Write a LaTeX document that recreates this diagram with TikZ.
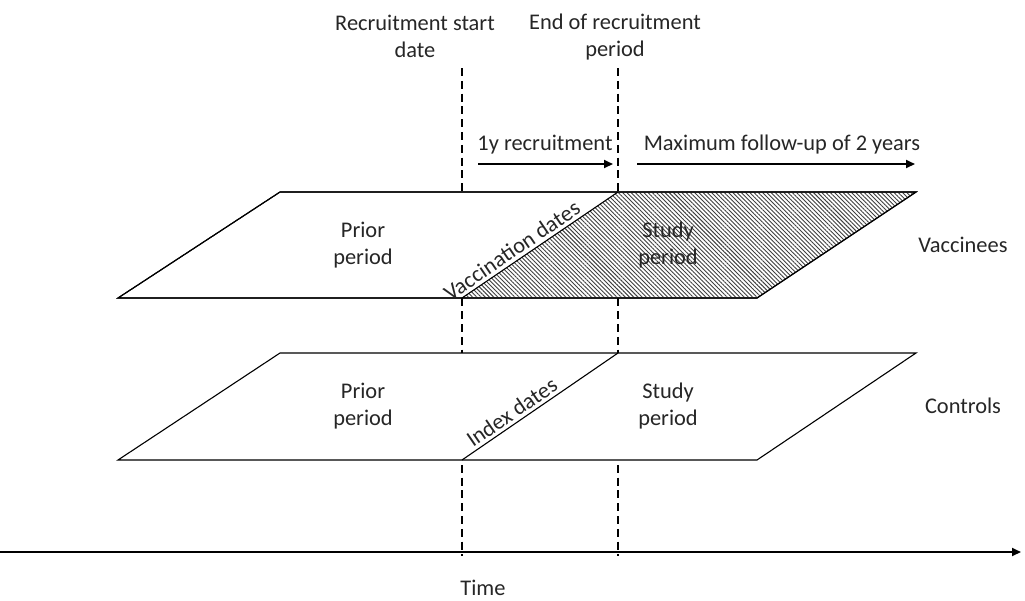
\documentclass[tikz,border=0pt]{standalone}
\usepackage{fontspec}
\setmainfont{Carlito}
\usetikzlibrary{arrows.meta,patterns.meta}

\begin{document}
\begin{tikzpicture}[x=0.5pt, y=-0.5pt,
txt/.style={align=center, font=\fontsize{11.2}{13.5}\selectfont, text=black!85, inner sep=0pt},
band/.style={draw=black, fill=white, line width=0.55pt},
marker/.style={line width=1.4pt, dash pattern=on 4pt off 2.4pt},
span/.style={line width=1pt, -{Triangle[length=4.5pt,width=4pt]}}
]
\useasboundingbox (0,0) rectangle (1025,601);
%Coordinates
\coordinate (s0) at (462,68);  \coordinate (s1) at (462,556);
\coordinate (e0) at (618,68);  \coordinate (e1) at (618,556);
\coordinate (a0) at (478,164); \coordinate (a1) at (613,164);
\coordinate (b0) at (637,164); \coordinate (b1) at (915,164);
\coordinate (t0) at (0,552);   \coordinate (t1) at (1021,552);
%Dashed markers
\draw[marker] (s0) -- (s1);
\draw[marker] (e0) -- (e1);
%Vaccinees band
\draw[band] (118,298) coordinate (v1) -- (280,192) coordinate (v2)
  -- (916,192) coordinate (v3) -- (757,298) coordinate (v4) -- cycle;
\coordinate (vd0) at (462,298); \coordinate (vd1) at (618,192);
\fill[pattern={Lines[angle=-45,distance=1.5pt,line width=0.45pt]}, pattern color=black!75]
  (vd0) -- (vd1) -- (v3) -- (v4) -- cycle;
\draw[band, fill=none] (v1) -- (v2) -- (v3) -- (v4) -- cycle;
\draw[line width=0.55pt] (vd0) -- (vd1)
  node[txt, pos=0.36, sloped, anchor=south, yshift=1.5pt] (vdates) {Vaccination dates};
%Controls band
\draw[band] (118,460) coordinate (c1) -- (280,353) coordinate (c2)
  -- (916,353) coordinate (c3) -- (757,460) coordinate (c4) -- cycle;
\coordinate (cd0) at (462,460); \coordinate (cd1) at (618,353);
\draw[line width=0.55pt] (cd0) -- (cd1)
  node[txt, pos=0.36, sloped, anchor=south, yshift=1.5pt] (cdates) {Index dates};
%Nodes
\node[txt] (rstart) at (415,36)  {Recruitment start\\date};
\node[txt] (rend)   at (615,37)  {End of recruitment\\period};
\node[txt] (recr)   at (545,145) {1y recruitment};
\node[txt] (follow) at (782,145) {Maximum follow-up of 2 years};
\node[txt] (vprior) at (363,245) {Prior\\period};
\node[txt] (vstudy) at (668,245) {Study\\period};
\node[txt] (vacc)   at (963,245) {Vaccinees};
\node[txt] (cprior) at (363,406) {Prior\\period};
\node[txt] (cstudy) at (668,406) {Study\\period};
\node[txt] (ctrl)   at (963,406) {Controls};
\node[txt] (time)   at (483,588) {Time};
%Arrows
\draw[span] (a0) -- (a1);
\draw[span] (b0) -- (b1);
\draw[span] (t0) -- (t1);
\end{tikzpicture}
\end{document}
